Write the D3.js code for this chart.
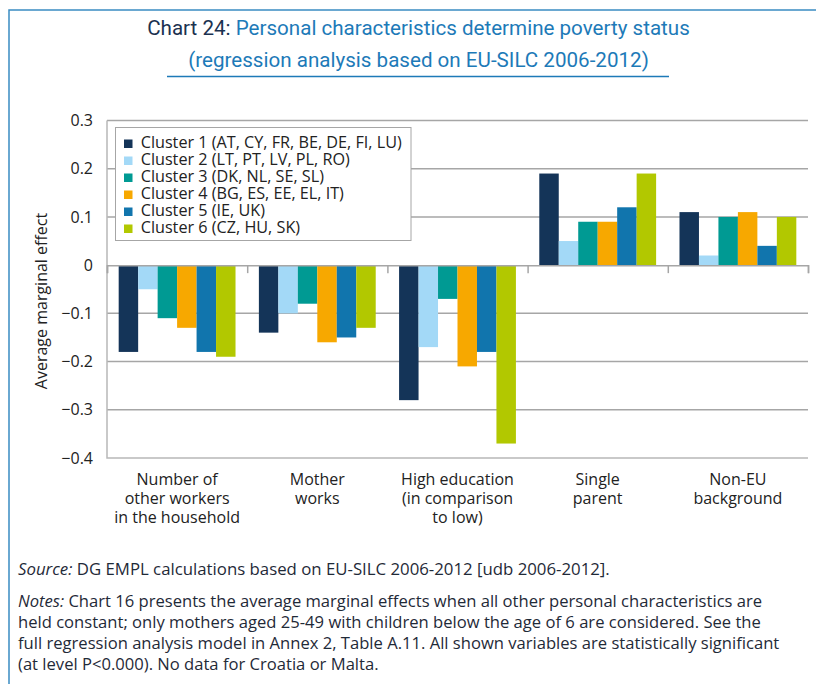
<!DOCTYPE html>
<html>
<head>
<meta charset="utf-8">
<script src="https://cdn.jsdelivr.net/npm/d3@7"></script>
<style>
  body { margin: 0; background: #fff; }
  svg { display: block; font-family: "Open Sans", Roboto, sans-serif; }
</style>
</head>
<body>
<svg width="816" height="684"></svg>
<script>
// DATA
const categories = [
  ["Number of", "other workers", "in the household"],
  ["Mother", "works"],
  ["High education", "(in comparison", "to low)"],
  ["Single", "parent"],
  ["Non-EU", "background"]
];
const clusters = [
  "Cluster 1 (AT, CY, FR, BE, DE, FI, LU)",
  "Cluster 2 (LT, PT, LV, PL, RO)",
  "Cluster 3 (DK, NL, SE, SL)",
  "Cluster 4 (BG, ES, EE, EL, IT)",
  "Cluster 5 (IE, UK)",
  "Cluster 6 (CZ, HU, SK)"
];
const cluster1 = [-0.18, -0.14, -0.28, 0.19, 0.11];
const cluster2 = [-0.05, -0.10, -0.17, 0.05, 0.02];
const cluster3 = [-0.11, -0.08, -0.07, 0.09, 0.10];
const cluster4 = [-0.13, -0.16, -0.21, 0.09, 0.11];
const cluster5 = [-0.18, -0.15, -0.18, 0.12, 0.04];
const cluster6 = [-0.19, -0.13, -0.37, 0.19, 0.10];
const yTicks = [0.3, 0.2, 0.1, 0, -0.1, -0.2, -0.3, -0.4];
const notes = [
  "Chart 16 presents the average marginal effects when all other personal characteristics are",
  "held constant; only mothers aged 25-49 with children below the age of 6 are considered. See the",
  "full regression analysis model in Annex 2, Table A.11. All shown variables are statistically significant",
  "(at level P<0.000). No data for Croatia or Malta."
];

const series = [cluster1, cluster2, cluster3, cluster4, cluster5, cluster6];
const colors = ["#143458", "#a3d9f7", "#009a93", "#f7a800", "#1175ad", "#b2c800"];
const textColor = "#1f2a38";
const blue = "#1d7ab8";

const svg = d3.select("svg");

// FRAME
svg.append("path")
  .attr("d", "M9,684V10H816")
  .attr("fill", "none")
  .attr("stroke", "#3a8cc2")
  .attr("stroke-width", 1.5);

// TITLE
const title = svg.append("text")
  .attr("x", 418.5)
  .attr("y", 35)
  .attr("text-anchor", "middle")
  .attr("font-family", "Roboto, sans-serif")
  .attr("font-size", 20.6);
title.append("tspan").attr("fill", "#1b3150").text("Chart 24: ");
title.append("tspan").attr("fill", blue).text("Personal characteristics determine poverty status");

svg.append("text")
  .attr("x", 418.5)
  .attr("y", 67)
  .attr("text-anchor", "middle")
  .attr("font-family", "Roboto, sans-serif")
  .attr("font-size", 20.6)
  .attr("fill", blue)
  .text("(regression analysis based on EU-SILC 2006-2012)");

svg.append("line")
  .attr("x1", 167).attr("x2", 669)
  .attr("y1", 76.5).attr("y2", 76.5)
  .attr("stroke", blue)
  .attr("stroke-width", 1.5);

// SCALES
const plotLeft = 107, plotRight = 808, plotTop = 120.5, plotBottom = 458;
const x0 = d3.scaleBand()
  .domain(d3.range(categories.length))
  .range([plotLeft, plotRight]);
const x1 = d3.scaleBand()
  .domain(d3.range(series.length))
  .range([0, x0.bandwidth()])
  .paddingOuter(0.6);
const y = d3.scaleLinear()
  .domain([-0.4, 0.3])
  .range([plotBottom, plotTop]);

// GRID
svg.append("g")
  .selectAll("line")
  .data(yTicks.filter(d => d !== 0 && d !== -0.4))
  .join("line")
  .attr("x1", plotLeft).attr("x2", plotRight)
  .attr("y1", d => y(d)).attr("y2", d => y(d))
  .attr("stroke", "#a6a6a6")
  .attr("stroke-width", 1.5);

// AXIS LINES
svg.append("path")
  .attr("d", `M${plotLeft},${plotTop}V${plotBottom}H${plotRight}`)
  .attr("fill", "none")
  .attr("stroke", "#b8b8b8")
  .attr("stroke-width", 1.5);

// Y TICK LABELS
svg.append("g")
  .selectAll("text")
  .data(yTicks)
  .join("text")
  .attr("x", 93)
  .attr("y", d => y(d))
  .attr("dy", "0.35em")
  .attr("text-anchor", "end")
  .attr("font-size", 16)
  .attr("fill", "#222")
  .text(d => d === 0 ? "0" : d3.format(".1f")(d));

// Y TITLE
svg.append("text")
  .attr("transform", "translate(47,301) rotate(-90)")
  .attr("text-anchor", "middle")
  .attr("font-size", 16)
  .attr("fill", "#222")
  .text("Average marginal effect");

// BARS
const groups = svg.append("g")
  .selectAll("g")
  .data(categories.map((c, i) => i))
  .join("g")
  .attr("transform", i => `translate(${x0(i)},0)`);

groups.selectAll("rect")
  .data(i => series.map((s, k) => ({ k, v: s[i] })))
  .join("rect")
  .attr("x", d => x1(d.k))
  .attr("width", x1.bandwidth())
  .attr("y", d => y(Math.max(0, d.v)))
  .attr("height", d => Math.abs(y(d.v) - y(0)))
  .attr("fill", d => colors[d.k]);

// ZERO LINE WITH TICKS
const xTick = d3.scaleLinear().domain([0, categories.length]).range([plotLeft, plotRight]);
svg.append("g")
  .attr("transform", `translate(0,${y(0)})`)
  .call(d3.axisBottom(xTick).ticks(categories.length).tickSize(8).tickFormat(""))
  .call(g => g.selectAll("path, line").attr("stroke", "#a6a6a6").attr("stroke-width", 1.5));

// CATEGORY LABELS
svg.append("g")
  .selectAll("text")
  .data(categories)
  .join("text")
  .attr("x", (d, i) => x0(i) + x0.bandwidth() / 2)
  .attr("y", 485)
  .attr("text-anchor", "middle")
  .attr("font-size", 16)
  .attr("fill", "#222")
  .selectAll("tspan")
  .data(d => d)
  .join("tspan")
  .attr("x", function () { return d3.select(this.parentNode).attr("x"); })
  .attr("dy", (d, i) => i === 0 ? 0 : 19)
  .text(d => d);

// LEGEND
const legend = svg.append("g");
legend.append("rect")
  .attr("x", 115.5).attr("y", 127.5)
  .attr("width", 295.5).attr("height", 113)
  .attr("fill", "#fff")
  .attr("stroke", "#a6a6a6");

const items = legend.selectAll("g")
  .data(clusters)
  .join("g")
  .attr("transform", (d, i) => `translate(124,${139.5 + i * 17})`);
items.append("rect")
  .attr("width", 8.5).attr("height", 8.5)
  .attr("fill", (d, i) => colors[i]);
items.append("text")
  .attr("x", 16.7)
  .attr("y", 8)
  .attr("font-size", 16.2)
  .attr("fill", "#222")
  .text(d => d);

// SOURCE AND NOTES
const source = svg.append("text")
  .attr("x", 18).attr("y", 575)
  .attr("font-size", 16.8)
  .attr("fill", textColor);
source.append("tspan").attr("font-style", "italic").text("Source:");
source.append("tspan").text(" DG EMPL calculations based on EU-SILC 2006-2012 [udb 2006-2012].");

svg.append("g")
  .selectAll("text")
  .data(notes)
  .join("text")
  .attr("x", 18)
  .attr("y", (d, i) => 606.5 + i * 21.3)
  .attr("font-size", 16.6)
  .attr("fill", textColor)
  .each(function (d, i) {
    const t = d3.select(this);
    if (i === 0) t.append("tspan").attr("font-style", "italic").text("Notes:");
    t.append("tspan").text(i === 0 ? " " + d : d);
  });
</script>
</body>
</html>
